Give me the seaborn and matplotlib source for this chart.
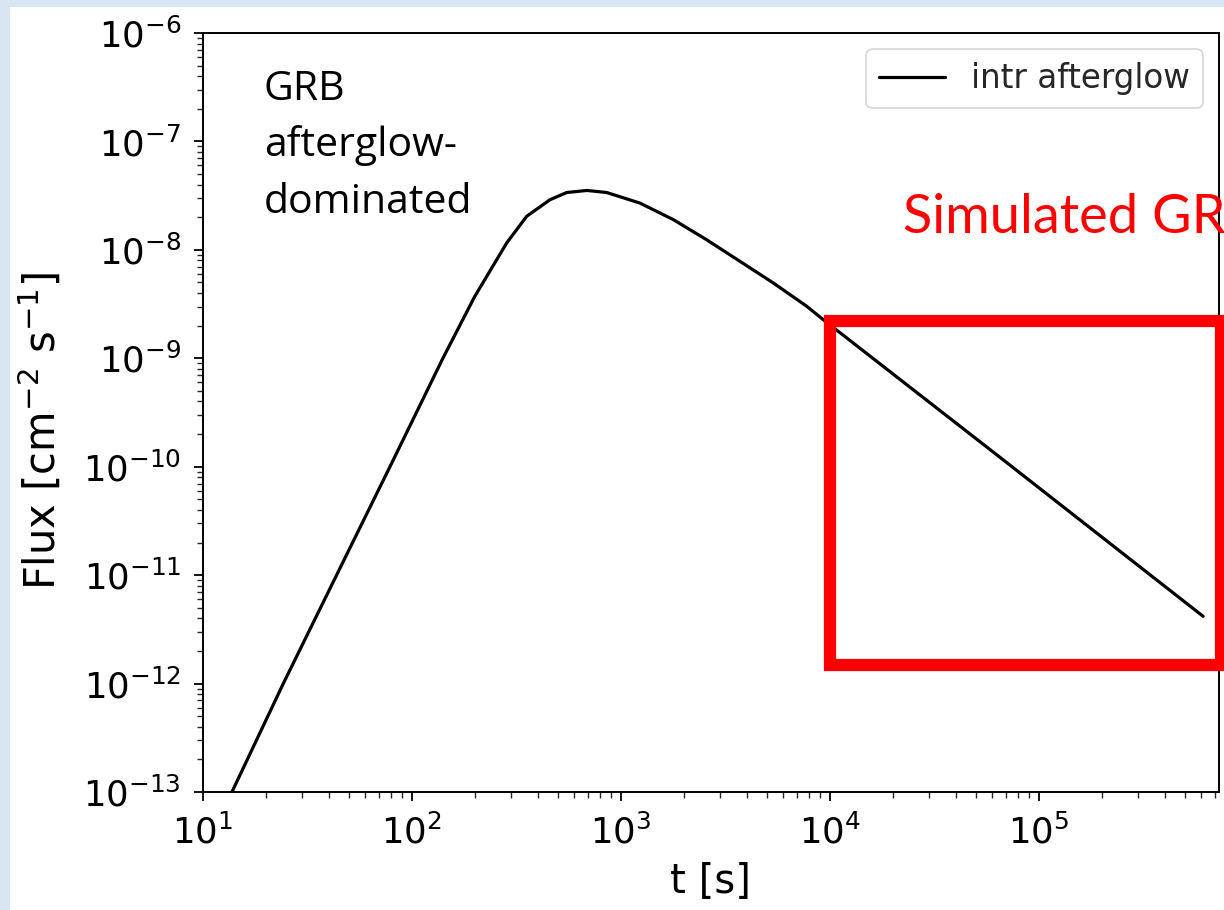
import numpy as np
import pandas as pd
import matplotlib
matplotlib.use("Agg")
import matplotlib.pyplot as plt
import seaborn as sns
from matplotlib.patches import Rectangle
from matplotlib.ticker import LogLocator, NullFormatter

# ---- data ----
time_s = [13.8, 24.3, 43.7, 78.7, 141, 200, 285, 355, 459, 552, 690, 857,
          1236, 1786, 2576, 3724, 5370, 7762, 9290, 65300, 612000]
flux = [1e-13, 1e-12, 1e-11, 1e-10, 1e-9, 3.7e-9, 1.16e-8, 2.04e-8, 2.90e-8,
        3.38e-8, 3.53e-8, 3.38e-8, 2.70e-8, 1.90e-8, 1.24e-8, 7.83e-9,
        4.95e-9, 3.02e-9, 2.28e-9, 1.22e-10, 4.17e-12]
x_ticks = [1e1, 1e2, 1e3, 1e4, 1e5]
y_ticks = [1e-13, 1e-12, 1e-11, 1e-10, 1e-9, 1e-8, 1e-7, 1e-6]
series_label = "intr afterglow"
x_label = "t [s]"
y_label = "Flux [cm$^{-2}$ s$^{-1}$]"
note_left = ["GRB", "afterglow-", "dominated"]
note_right = "Simulated GR"

df = pd.DataFrame({"t": time_s, "flux": flux, "series": series_label})

sns.set_theme(style="ticks")
plt.rcParams["font.family"] = ["DejaVu Sans"]
plt.rcParams["mathtext.fontset"] = "dejavusans"

W, H = 1224, 910
fig = plt.figure(figsize=(W / 100, H / 100), dpi=100)
fig.patch.set_facecolor("#d8e5f3")
# white slide panel
fig.add_artist(Rectangle((10 / W, 0), 1 - 10 / W, 1 - 7 / H,
                         transform=fig.transFigure, facecolor="white",
                         edgecolor="none", zorder=0))

ax_l, ax_r, ax_t, ax_b = 202.7, 1219.0, 33.0, 792.0
ax = fig.add_axes([ax_l / W, 1 - ax_b / H, (ax_r - ax_l) / W, (ax_b - ax_t) / H])
ax.set_facecolor("white")

sns.lineplot(data=df, x="t", y="flux", hue="series", palette=["black"],
             estimator=None, sort=False, linewidth=2.3, ax=ax)

ax.set_xscale("log")
ax.set_yscale("log")
ax.set_xlim(10, 10 ** (1 + (ax_r - ax_l) / 209.0))
ax.set_ylim(1e-13, 1e-6)
ax.set_xticks(x_ticks)
ax.set_yticks(y_ticks)

for axis in (ax.xaxis, ax.yaxis):
    axis.set_minor_locator(LogLocator(base=10, subs=np.arange(2, 10), numticks=300))
    axis.set_minor_formatter(NullFormatter())

for s in ax.spines.values():
    s.set_visible(True)
    s.set_color("black")
    s.set_linewidth(1.4)

ax.tick_params(which="major", length=6.7, width=1.3, labelsize=25.5,
               colors="black", pad=9, direction="out")
ax.tick_params(which="minor", length=4.0, width=1.0, direction="out")
ax.tick_params(top=False, right=False)

ax.set_xlabel(x_label, fontsize=29, color="black")
ax.set_ylabel(y_label, fontsize=30, color="black")
ax.xaxis.set_label_coords(0.5, -(862 - ax_b) / (ax_b - ax_t))
ax.yaxis.set_label_coords((65 - ax_l) / (ax_r - ax_l), 1 - (431 - ax_t) / (ax_b - ax_t))

leg = ax.legend(loc="upper right", fontsize=23.5, frameon=True, fancybox=True,
                handlelength=2.0, borderaxespad=0.5)
leg.get_frame().set_edgecolor("#cccccc")
leg.get_frame().set_linewidth(1.2)
for line in leg.get_lines():
    line.set_linewidth(2.3)

# slide annotations
for i, txt in enumerate(note_left):
    fig.text(264 / W, 1 - (100 + 56.5 * i) / H, txt, fontsize=29.5,
             family=["Open Sans", "DejaVu Sans"], color="black", ha="left", va="baseline")

fig.text(903 / W, 1 - 233 / H, note_right, fontsize=39,
         family=["Lato", "DejaVu Sans"], color="#ff0000", ha="left", va="baseline")

bx0, bx1, by0, by1 = 829.5, 1221.0, 320.5, 665.0
fig.add_artist(Rectangle((bx0 / W, 1 - by1 / H), (bx1 - bx0) / W, (by1 - by0) / H,
                         transform=fig.transFigure, facecolor="none",
                         edgecolor="#ff0000", linewidth=8.8, zorder=5,
                         joinstyle="miter"))

fig.savefig("out.png", dpi=100, facecolor=fig.get_facecolor())
